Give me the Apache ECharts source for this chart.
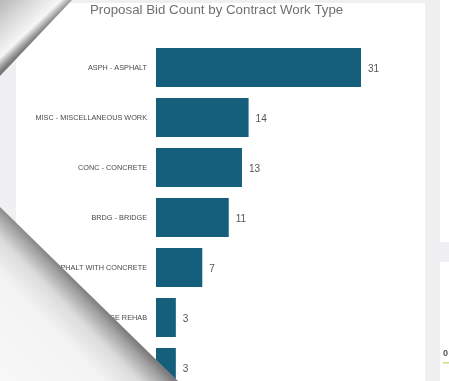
<!DOCTYPE html>
<html>
<head>
<meta charset="utf-8">
<script src="https://cdn.jsdelivr.net/npm/echarts@6/dist/echarts.min.js"></script>
<style>
  html, body { margin: 0; padding: 0; background: #f0f0f3; }
  #chart { width: 449px; height: 381px; }
</style>
</head>
<body>
<div id="chart"></div>
<script>
// work types, top to bottom
const workTypes = [
  'ASPH - ASPHALT',
  'MISC - MISCELLANEOUS WORK',
  'CONC - CONCRETE',
  'BRDG - BRIDGE',
  'ASWC - ASPHALT WITH CONCRETE',
  'BRRH - BRIDGE REHAB',
  'SIGN - SIGNING'
];
const bidCounts = [31, 14, 13, 11, 7, 3, 3];

const chart = echarts.init(document.getElementById('chart'));

const option = {
  backgroundColor: '#f0f0f3',
  animation: false,
  title: {
    text: 'Proposal Bid Count by Contract Work Type',
    left: 90,
    top: 4,
    padding: 0,
    textStyle: {
      color: '#707070',
      fontSize: 13.3,
      fontWeight: 'normal',
      fontFamily: 'Liberation Sans, Arial, sans-serif'
    }
  },
  grid: {
    left: 156,
    right: 88,
    top: 42.5,
    height: 350,
    outerBoundsMode: 'none'
  },
  xAxis: {
    type: 'value',
    min: 0,
    max: 31,
    show: false
  },
  yAxis: {
    type: 'category',
    data: workTypes,
    inverse: true,
    axisLine: {show: false},
    axisTick: {show: false},
    splitLine: {show: false},
    axisLabel: {
      margin: 9,
      color: '#4a4a4a',
      fontSize: 7.3,
      fontFamily: 'Liberation Sans, Arial, sans-serif'
    }
  },
  series: [
    {
      type: 'bar',
      data: bidCounts,
      barWidth: 39,
      itemStyle: {color: '#155f7d'},
      label: {
        show: true,
        position: 'right',
        distance: 7,
        offset: [0, 1.5],
        color: '#555',
        fontSize: 10,
        fontFamily: 'Liberation Sans, Arial, sans-serif'
      }
    }
  ],
  graphic: [
    // white card behind the chart
    {type: 'rect', z: -10, shape: {x: 16, y: 3, width: 409, height: 390}, style: {fill: '#fff'}},
    // side panels on the right
    {type: 'rect', z: -10, shape: {x: 440, y: 0, width: 20, height: 242}, style: {fill: '#fff'}},
    {type: 'rect', z: -10, shape: {x: 440, y: 262, width: 20, height: 130}, style: {fill: '#fff'}},
    {type: 'text', z: 10, left: 443, top: 349, style: {text: '0', fill: '#555', fontSize: 9, fontWeight: 'bold', fontFamily: 'Liberation Sans, Arial'}},
    {type: 'rect', z: 10, shape: {x: 443, y: 362, width: 6, height: 1.5}, style: {fill: '#cfdc8a'}},
    // top-left folded corner
    {
      type: 'polygon', z: 100,
      shape: {points: [[0, 0], [72, 0], [0, 76]]},
      style: {
        fill: new echarts.graphic.LinearGradient(0, 0, 0.5, 0.5, [
          {offset: 0, color: '#b8b8b8'},
          {offset: 0.45, color: '#dcdcdc'},
          {offset: 0.8, color: '#f6f6f6'},
          {offset: 0.93, color: '#a0a0a0'},
          {offset: 1, color: '#7a7a7a'}
        ])
      }
    },
    // bottom-left page curl
    {
      type: 'polygon', z: 100,
      shape: {points: [[0, 207], [178, 381], [0, 381]]},
      style: {
        fill: new echarts.graphic.LinearGradient(0.5, 0.5, 0, 1, [
          {offset: 0, color: '#7d7d7d'},
          {offset: 0.06, color: '#a0a0a0'},
          {offset: 0.2, color: '#dcdcdc'},
          {offset: 0.4, color: '#f3f3f3'},
          {offset: 1, color: '#f8f8f8'}
        ])
      }
    }
  ]
};

chart.setOption(option);
</script>
</body>
</html>
